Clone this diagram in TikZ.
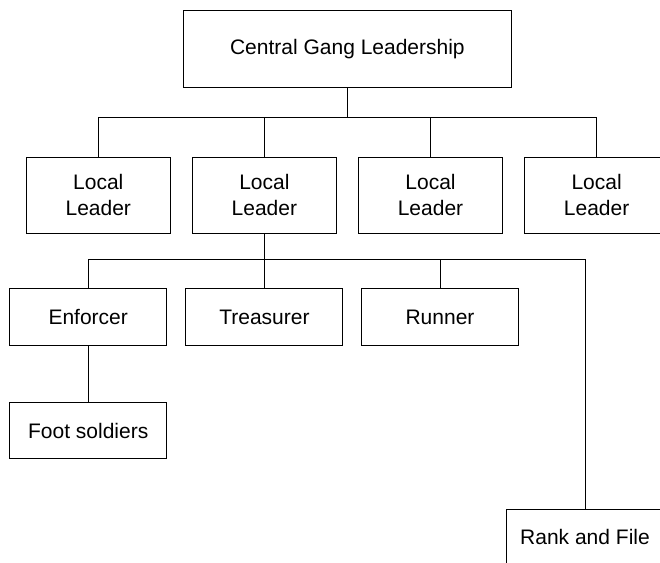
\documentclass[tikz,border=0pt]{standalone}
\usepackage{fontspec}
\setmainfont{Liberation Sans}

\begin{document}
\begin{tikzpicture}[x=1pt, y=-1pt, line width=0.9pt, font=\fontsize{21}{25.7}\selectfont,
  box/.style={draw, align=center, inner sep=0pt},
  leader/.style={box, minimum width=143.6pt, minimum height=76pt},
  role/.style={box, minimum width=157pt, minimum height=56.7pt}]
  \useasboundingbox (0,0) rectangle (660,562);
  \clip (0,0) rectangle (660,562);

  \node[box, minimum width=328.5pt, minimum height=76.6pt] (central) at (347.4,49) {Central Gang Leadership};

  \node[leader] (local1) at (98.3,195) {Local\\Leader};
  \node[leader] (local2) at (264.4,195) {Local\\Leader};
  \node[leader] (local3) at (430.5,195) {Local\\Leader};
  \node[leader] (local4) at (596.6,195) {Local\\Leader};

  \node[role] (enforcer) at (88.2,317) {Enforcer};
  \node[role] (treasurer) at (264.4,317) {Treasurer};
  \node[role] (runner) at (440,317) {Runner};
  \node[role] (foot) at (88.2,430.5) {Foot soldiers};
  \node[role] (rank) at (585,537.3) {Rank and File};

  % central -> local leaders
  \coordinate (busA) at (347.4,117);
  \draw (central.south) -- (busA);
  \foreach \n in {1,...,4}
    \draw (busA) -| (local\n.north);

  % local leader -> roles
  \path (local2.south) ++(0,26.3) coordinate (busB);
  \draw (local2.south) -- (busB);
  \foreach \n in {enforcer,treasurer,runner,rank}
    \draw (busB) -| (\n.north);

  \draw (enforcer.south) -- (foot.north);
\end{tikzpicture}
\end{document}
